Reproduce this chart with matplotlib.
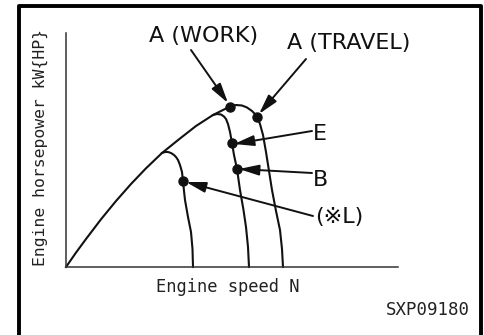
import matplotlib
matplotlib.use("Agg")
import matplotlib.pyplot as plt
from matplotlib.lines import Line2D

# curve data (engine speed, horsepower) in arbitrary drawing units
env_n = [0, 10, 20, 35, 50, 65, 80, 96, 114, 130, 147, 157, 164, 170, 176,
         181, 186, 189, 191, 194, 197, 200, 203, 206, 210, 214, 216, 217]
env_p = [0, 14.4, 28, 47.7, 66, 83, 98.7, 114, 128.5, 141, 152, 157, 160.5, 162, 161.5,
         159.5, 156, 153, 150, 143, 132, 115, 96, 77, 56, 37, 18, 0]

eb_n = [147, 151, 155, 158, 160, 162, 164, 166, 168, 171, 174, 177.5, 180, 182, 183]
eb_p = [152, 153, 152.5, 150.5, 148, 143, 135, 124, 112, 98, 77, 57, 40, 20, 0]

l_n = [96, 99, 102, 105, 108, 110, 112, 114, 116, 117, 118, 119, 122, 125, 126.5, 127]
l_p = [114, 115, 115, 114, 112, 110, 107, 102, 95, 86, 76, 67, 50, 35, 18, 0]

# marked points
dot_n = [164, 191, 166, 171, 117]
dot_p = [160.5, 150, 124, 98, 86]

# callouts: label, text position, arrow tail, arrow tip
labels = ["A (WORK)", "A (TRAVEL)", "E", "B", "(※L)"]
label_xy = [(138, 231), (283, 224), (247, 133), (247, 87), (249, 50)]
label_ha = ["center", "center", "left", "left", "left"]
tail_xy = [(125, 217), (240, 208), (246, 136), (246, 94), (247, 51)]
tip_xy = [(162, 164), (193, 153), (168, 123), (173, 98), (120, 85)]

W, H = 485, 335
fig = plt.figure(figsize=(W / 100, H / 100), dpi=100)
ax = fig.add_axes([66 / W, (H - 267) / H, 332 / W, 234 / H])
ax.set_xlim(0, 332)
ax.set_ylim(0, 234)
ax.set_xticks([])
ax.set_yticks([])
for side in ["top", "right"]:
    ax.spines[side].set_visible(False)
for side in ["left", "bottom"]:
    ax.spines[side].set_linewidth(1.1)
    ax.spines[side].set_color("#333333")

for xs, ys in [(env_n, env_p), (eb_n, eb_p), (l_n, l_p)]:
    ax.plot(xs, ys, color="#111111", lw=1.5, solid_joinstyle="round", clip_on=False)
ax.plot(dot_n, dot_p, "o", color="#111111", ms=6.5, clip_on=False, zorder=5)

lab_font = ["Liberation Sans Narrow", "DejaVu Sans"]
for txt, (tx, ty), ha, tail, tip in zip(labels, label_xy, label_ha, tail_xy, tip_xy):
    ax.annotate("", xy=tip, xytext=tail, annotation_clip=False,
                arrowprops=dict(arrowstyle="-|>,head_length=0.6,head_width=0.16",
                                mutation_scale=20, lw=1.4, color="#111111",
                                shrinkA=0, shrinkB=0))
    ax.text(tx, ty, txt, ha=ha, va="center", fontsize=16, family=lab_font,
            color="#111111", clip_on=False)

mono = "DejaVu Sans Mono"
fig.text(40 / W, 1 - 148 / H, "Engine horsepower kW{HP}", rotation=90,
         ha="center", va="center", fontsize=11.8, family=mono, color="#222222")
fig.text(228 / W, 1 - 287 / H, "Engine speed N", ha="center", va="center",
         fontsize=12.3, family=mono, color="#222222")
fig.text(470 / W, 1 - 310 / H, "SXP09180", ha="right", va="center",
         fontsize=12.5, family=mono, color="#222222")

# frame (open at the bottom)
fx = [19 / W, 19 / W, 481 / W, 481 / W]
fy = [-0.05, 1 - 5.5 / H, 1 - 5.5 / H, -0.05]
fig.add_artist(Line2D(fx, fy, transform=fig.transFigure, color="black", lw=2.8))

fig.savefig("out.png", dpi=100)
